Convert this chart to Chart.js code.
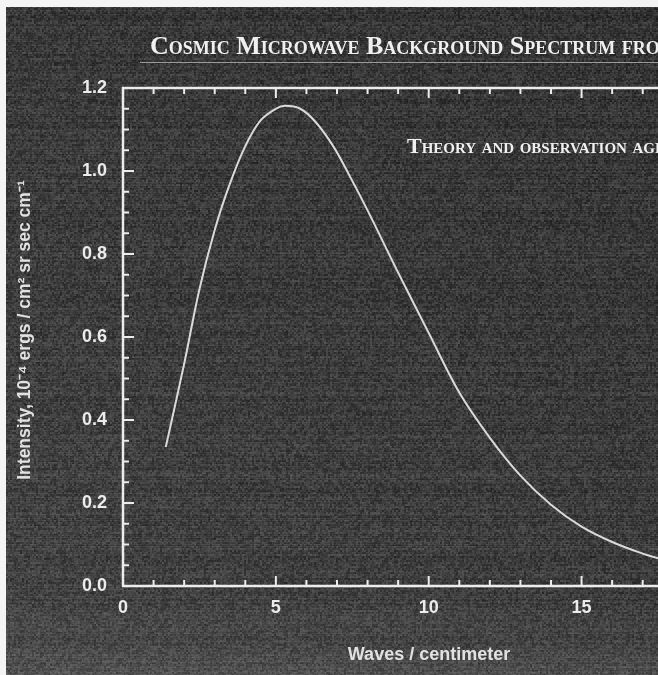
<!DOCTYPE html>
<html>
<head>
<meta charset="utf-8">
<script src="https://cdn.jsdelivr.net/npm/chart.js@4.4.1/dist/chart.umd.min.js"></script>
<style>
	html, body { margin: 0; padding: 0; background: #3b3b3b; }
	#wrap { position: relative; width: 658px; height: 675px; }
</style>
</head>
<body>
<div id="wrap"><canvas id="chart-cmb"></canvas></div>
<script>
// Curve (wavenumber in 1/cm, intensity in 1e-4 units)
const WAVES = [1.4, 2.0, 2.5, 3.0, 3.5, 4.0, 4.5, 5.0, 5.3, 5.8, 6.3, 6.9, 7.4, 8.0, 9.0, 10.0, 11.0, 12.0, 13.0, 14.0, 15.0, 16.0, 17.0, 17.5];
const INTENSITY = [0.335, 0.535, 0.715, 0.858, 0.970, 1.060, 1.122, 1.150, 1.157, 1.150, 1.118, 1.057, 0.990, 0.905, 0.755, 0.610, 0.466, 0.357, 0.266, 0.196, 0.143, 0.106, 0.078, 0.067];
const X_TICKS = [0, 5, 10, 15];
const Y_TICKS = ["0.0", "0.2", "0.4", "0.6", "0.8", "1.0", "1.2"];

const TITLE = "Cosmic Microwave Background Spectrum from COBE";
const SUBTITLE = "Theory and observation agree";
const X_TITLE = "Waves / centimeter";
const Y_TITLE = "Intensity, 10\u207B\u2074 ergs / cm\u00B2 sr sec cm\u207B\u00B9";

const INK = "#ececec";
const CHART_WRAPPER = document.getElementById("chart-cmb");

// grainy scanned background, built once
const hash = (n) => {
	n = (n ^ 61) ^ (n >>> 16);
	n = n + (n << 3);
	n ^= n >>> 4;
	n = Math.imul(n, 0x27d4eb2d);
	n ^= n >>> 15;
	return (n >>> 0) / 4294967296;
};
const makeGrain = (w, h) => {
	const c = document.createElement("canvas");
	c.width = w;
	c.height = h;
	const g = c.getContext("2d");
	const img = g.createImageData(w, h);
	for (let y = 0; y < h; y++) {
		const streak = (hash(y * 7919 + 13) - 0.5) * 14;
		let base = 52 + (y / h) * 10;
		if (y > 600) base += ((y - 600) / 75) * 14;
		for (let x = 0; x < w; x++) {
			const cell = hash(((y >> 1) * 4099 + (x >> 1)) * 31 + 7);
			const fine = hash(y * 65537 + x * 257 + 3);
			let v = base + streak + (cell - 0.5) * 34 + (fine - 0.5) * 14;
			v += (1 - x / w) * 6;
			const i = (y * w + x) * 4;
			img.data[i] = img.data[i + 1] = img.data[i + 2] = Math.max(0, Math.min(255, v));
			img.data[i + 3] = 255;
		}
	}
	g.putImageData(img, 0, 0);
	return c;
};
const GRAIN = makeGrain(658, 675);

const backdrop = {
	id: "backdrop",
	beforeDraw(chart) {
		const { ctx, width, height } = chart;
		ctx.save();
		ctx.drawImage(GRAIN, 0, 0, width, height);
		// white paper edge from the scan
		ctx.fillStyle = "#f4f4f4";
		ctx.fillRect(0, 0, width, 7);
		ctx.fillRect(0, 0, 6, height);
		ctx.restore();
	},
};

// frame with inward ticks, plus the loose texts
const frame = {
	id: "frame",
	afterDraw(chart) {
		const { ctx, chartArea: a, scales } = chart;
		const x = scales.x;
		const y = scales.y;
		ctx.save();
		ctx.strokeStyle = INK;
		ctx.lineWidth = 2.5;
		ctx.beginPath();
		ctx.moveTo(a.right, a.top);
		ctx.lineTo(a.left, a.top);
		ctx.lineTo(a.left, a.bottom);
		ctx.lineTo(a.right, a.bottom);
		ctx.stroke();

		ctx.lineWidth = 2;
		ctx.beginPath();
		for (let v = 1; v <= 17; v++) {
			const px = x.getPixelForValue(v);
			const len = v % 5 === 0 ? 10 : 6;
			ctx.moveTo(px, a.bottom);
			ctx.lineTo(px, a.bottom - len);
			ctx.moveTo(px, a.top);
			ctx.lineTo(px, a.top + len);
		}
		for (let k = 1; k < 24; k++) {
			const py = y.getPixelForValue(k * 0.05);
			const len = k % 4 === 0 ? 11 : 6;
			ctx.moveTo(a.left, py);
			ctx.lineTo(a.left + len, py);
		}
		ctx.stroke();

		// title and rule
		ctx.fillStyle = "#f0f0f0";
		ctx.textBaseline = "alphabetic";
		ctx.textAlign = "left";
		ctx.font = "small-caps bold 26px 'Liberation Serif'";
		ctx.fillText(TITLE, 150, 54);
		ctx.strokeStyle = "#9a9a9a";
		ctx.lineWidth = 1;
		ctx.beginPath();
		ctx.moveTo(140, 62.5);
		ctx.lineTo(chart.width, 62.5);
		ctx.stroke();

		ctx.font = "small-caps bold 22px 'Liberation Serif'";
		ctx.fillText(SUBTITLE, 407, 153);

		// axis titles
		ctx.fillStyle = "#e2e2e2";
		ctx.font = "bold 18px 'Liberation Sans'";
		ctx.textAlign = "center";
		ctx.textBaseline = "middle";
		ctx.fillText(X_TITLE, 429, 655);

		ctx.font = "bold 17.5px 'Liberation Sans'";
		ctx.translate(25, 330);
		ctx.rotate(-Math.PI / 2);
		ctx.fillText(Y_TITLE, 0, 0);
		ctx.restore();
	},
};

const CHART_DATA = {
	datasets: [
		{
			label: "Spectrum",
			data: WAVES.map((w, i) => ({ x: w, y: INTENSITY[i] })),
			showLine: true,
			borderColor: "#dadada",
			borderWidth: 2,
			pointRadius: 0,
			tension: 0.35,
			fill: false,
		},
	],
};

const CHART_CONFIG = {
	type: "scatter",
	data: CHART_DATA,
	options: {
		responsive: true,
		maintainAspectRatio: false,
		animation: false,
		layout: {
			padding: { top: 88, left: 0, right: 0, bottom: 0 },
		},
		plugins: {
			legend: { display: false },
			title: { display: false },
			tooltip: { enabled: false },
		},
		scales: {
			x: {
				type: "linear",
				min: 0,
				max: 17.5,
				border: { display: false },
				grid: { display: false, drawTicks: false },
				afterFit: (s) => { s.height = 89; },
				afterBuildTicks: (s) => { s.ticks = X_TICKS.map((v) => ({ value: v })); },
				ticks: {
					color: INK,
					padding: 11,
					maxRotation: 0,
					font: { family: "'Liberation Sans'", size: 18, weight: "bold" },
					callback: (v) => String(v),
				},
			},
			y: {
				type: "linear",
				min: 0,
				max: 1.2,
				border: { display: false },
				grid: { display: false, drawTicks: false },
				afterFit: (s) => { s.width = 123; },
				afterBuildTicks: (s) => { s.ticks = Y_TICKS.map((t) => ({ value: parseFloat(t) })); },
				ticks: {
					color: INK,
					padding: 16,
					font: { family: "'Liberation Sans'", size: 18, weight: "bold" },
					callback: (v) => Y_TICKS.find((t) => Math.abs(parseFloat(t) - v) < 1e-6) || "",
				},
			},
		},
	},
	plugins: [backdrop, frame],
};

if (CHART_WRAPPER) {
	new Chart(CHART_WRAPPER, CHART_CONFIG);
}
</script>
</body>
</html>
